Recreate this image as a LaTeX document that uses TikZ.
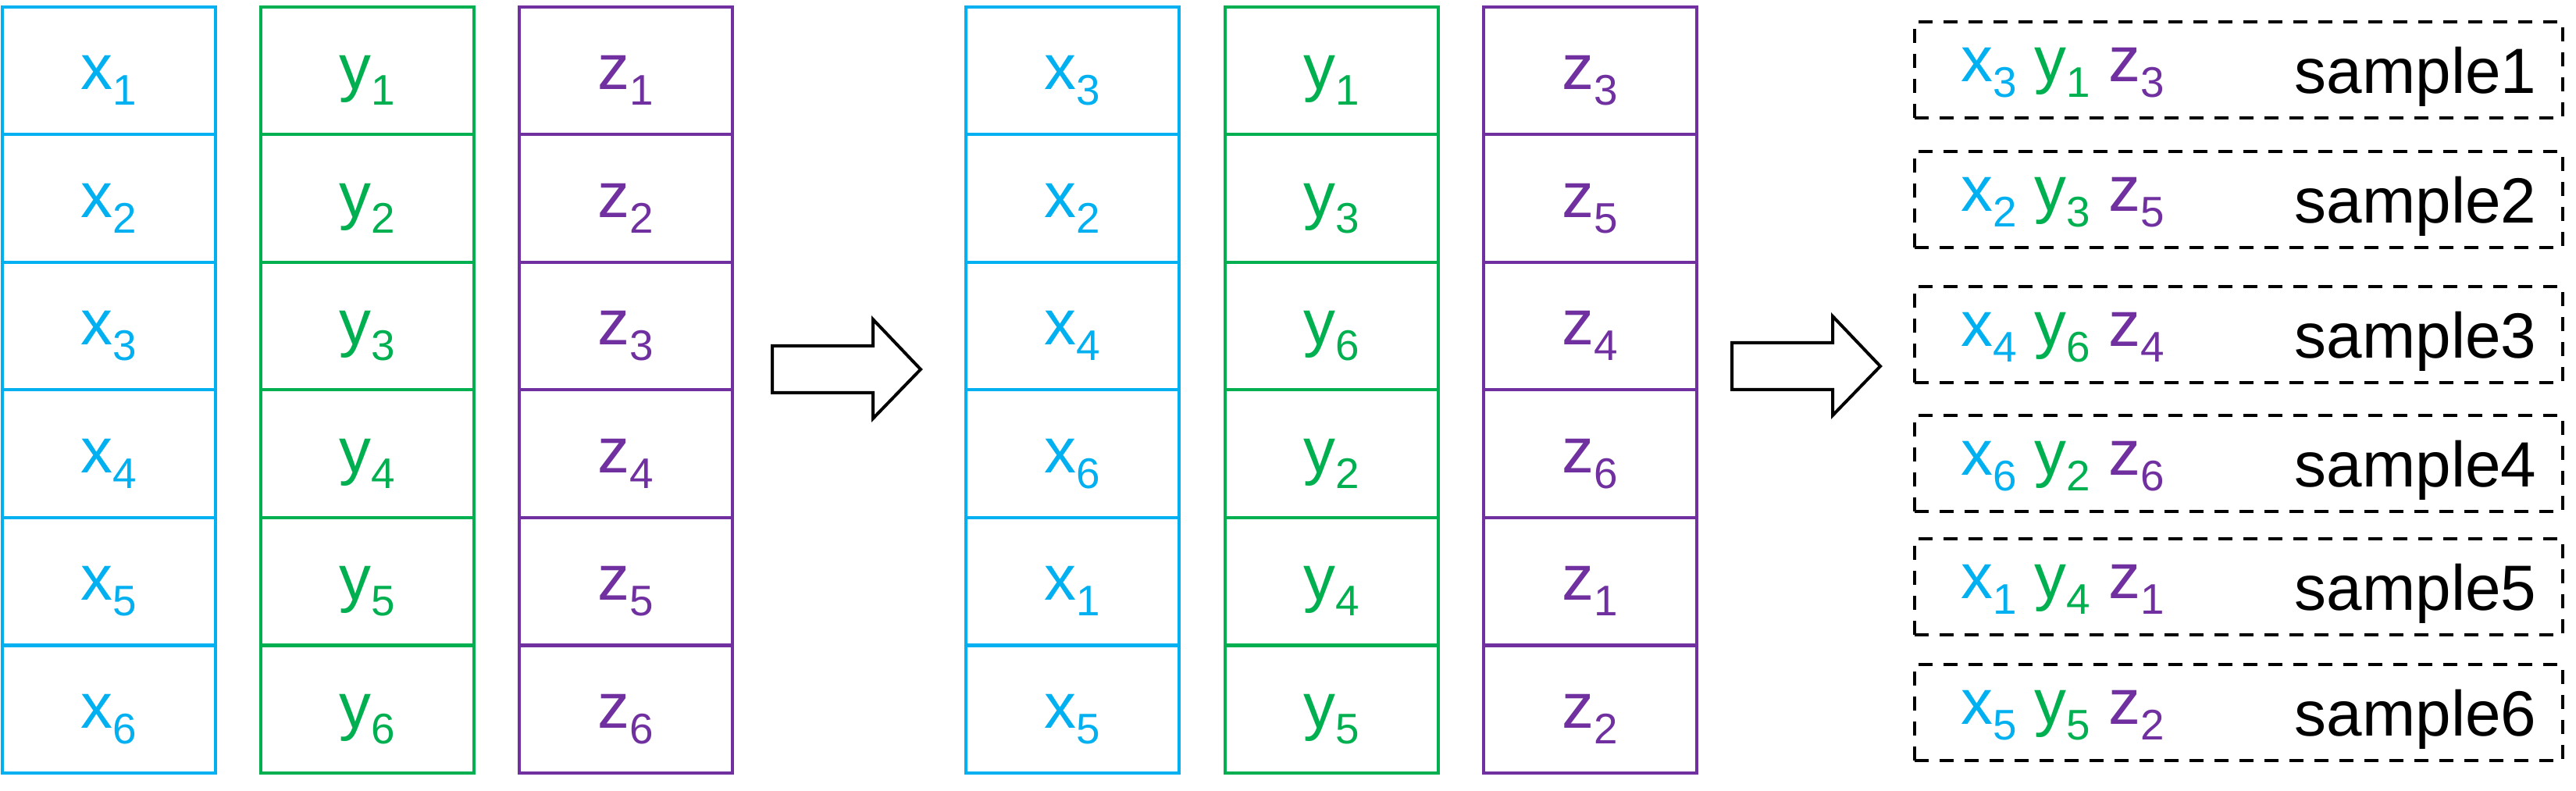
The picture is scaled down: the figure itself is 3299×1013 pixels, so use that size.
\documentclass[tikz,border=0pt]{standalone}
\usepackage{fontspec}
\setmainfont{Liberation Sans}
\usetikzlibrary{calc}
\definecolor{xblue}{HTML}{00B0F0}
\definecolor{ygreen}{HTML}{00B050}
\definecolor{zpurple}{HTML}{7030A0}
\newcommand{\idx}[1]{\raisebox{-2mm}{\fontsize{15.6}{18}\selectfont #1}}

\begin{document}
\begin{tikzpicture}[x=0.1mm, y=-0.1mm,
        every node/.style={font=\fontsize{23.3}{28}\selectfont},
        cell/.style={draw, line width=0.4mm, minimum width=27.3mm, minimum height=16.35mm, inner sep=0pt, text height=8.8mm, text depth=4mm},
        xcell/.style={cell, xblue},
        ycell/.style={cell, ygreen},
        zcell/.style={cell, zpurple},
        samplebox/.style={draw, dash pattern=on 1.8mm off 1.4mm, line width=0.4mm, minimum width=83mm, minimum height=12.3mm},
        blockarrow/.style={draw, line width=0.4mm, fill=white}]
        \useasboundingbox (0,0) rectangle (3299,1013);

        \foreach \i in {1,...,6} {
            \node[xcell] (ax\i) at (139.5, {9+(\i-0.5)*163.5}) {x\idx{\i}};
            \node[ycell] (ay\i) at (470.5, {9+(\i-0.5)*163.5}) {y\idx{\i}};
            \node[zcell] (az\i) at (801.5, {9+(\i-0.5)*163.5}) {z\idx{\i}};
        }

        \foreach \i/\a/\b/\c/\sy in {1/3/1/3/90, 2/2/3/5/256, 3/4/6/4/429, 4/6/2/6/594, 5/1/4/1/751.5, 6/5/5/2/912.5} {
            \node[xcell] (bx\i) at (1373, {9+(\i-0.5)*163.5}) {x\idx{\a}};
            \node[ycell] (by\i) at (1705, {9+(\i-0.5)*163.5}) {y\idx{\b}};
            \node[zcell] (bz\i) at (2036, {9+(\i-0.5)*163.5}) {z\idx{\c}};
            \node[samplebox] (s\i) at (2867, \sy) {};
            \node[anchor=base west, inner sep=0pt] (l\i) at ([xshift=6.1mm, yshift=-1.5mm]s\i.west)
                {\textcolor{xblue}{x\idx{\a}} \textcolor{ygreen}{y\idx{\b}} \textcolor{zpurple}{z\idx{\c}}};
            \node[anchor=base east, inner sep=0pt] (t\i) at ([xshift=-3.5mm, yshift=-3mm]s\i.east) {sample\i};
        }

        \foreach \ax/\ay in {989/473, 2218/469}
            \draw[blockarrow] (\ax,\ay-30) -- ++(129,0) -- ++(0,-34) -- (\ax+190,\ay)
                -- (\ax+129,\ay+63) -- ++(0,-33) -- (\ax,\ay+30) -- cycle;
\end{tikzpicture}
\end{document}
